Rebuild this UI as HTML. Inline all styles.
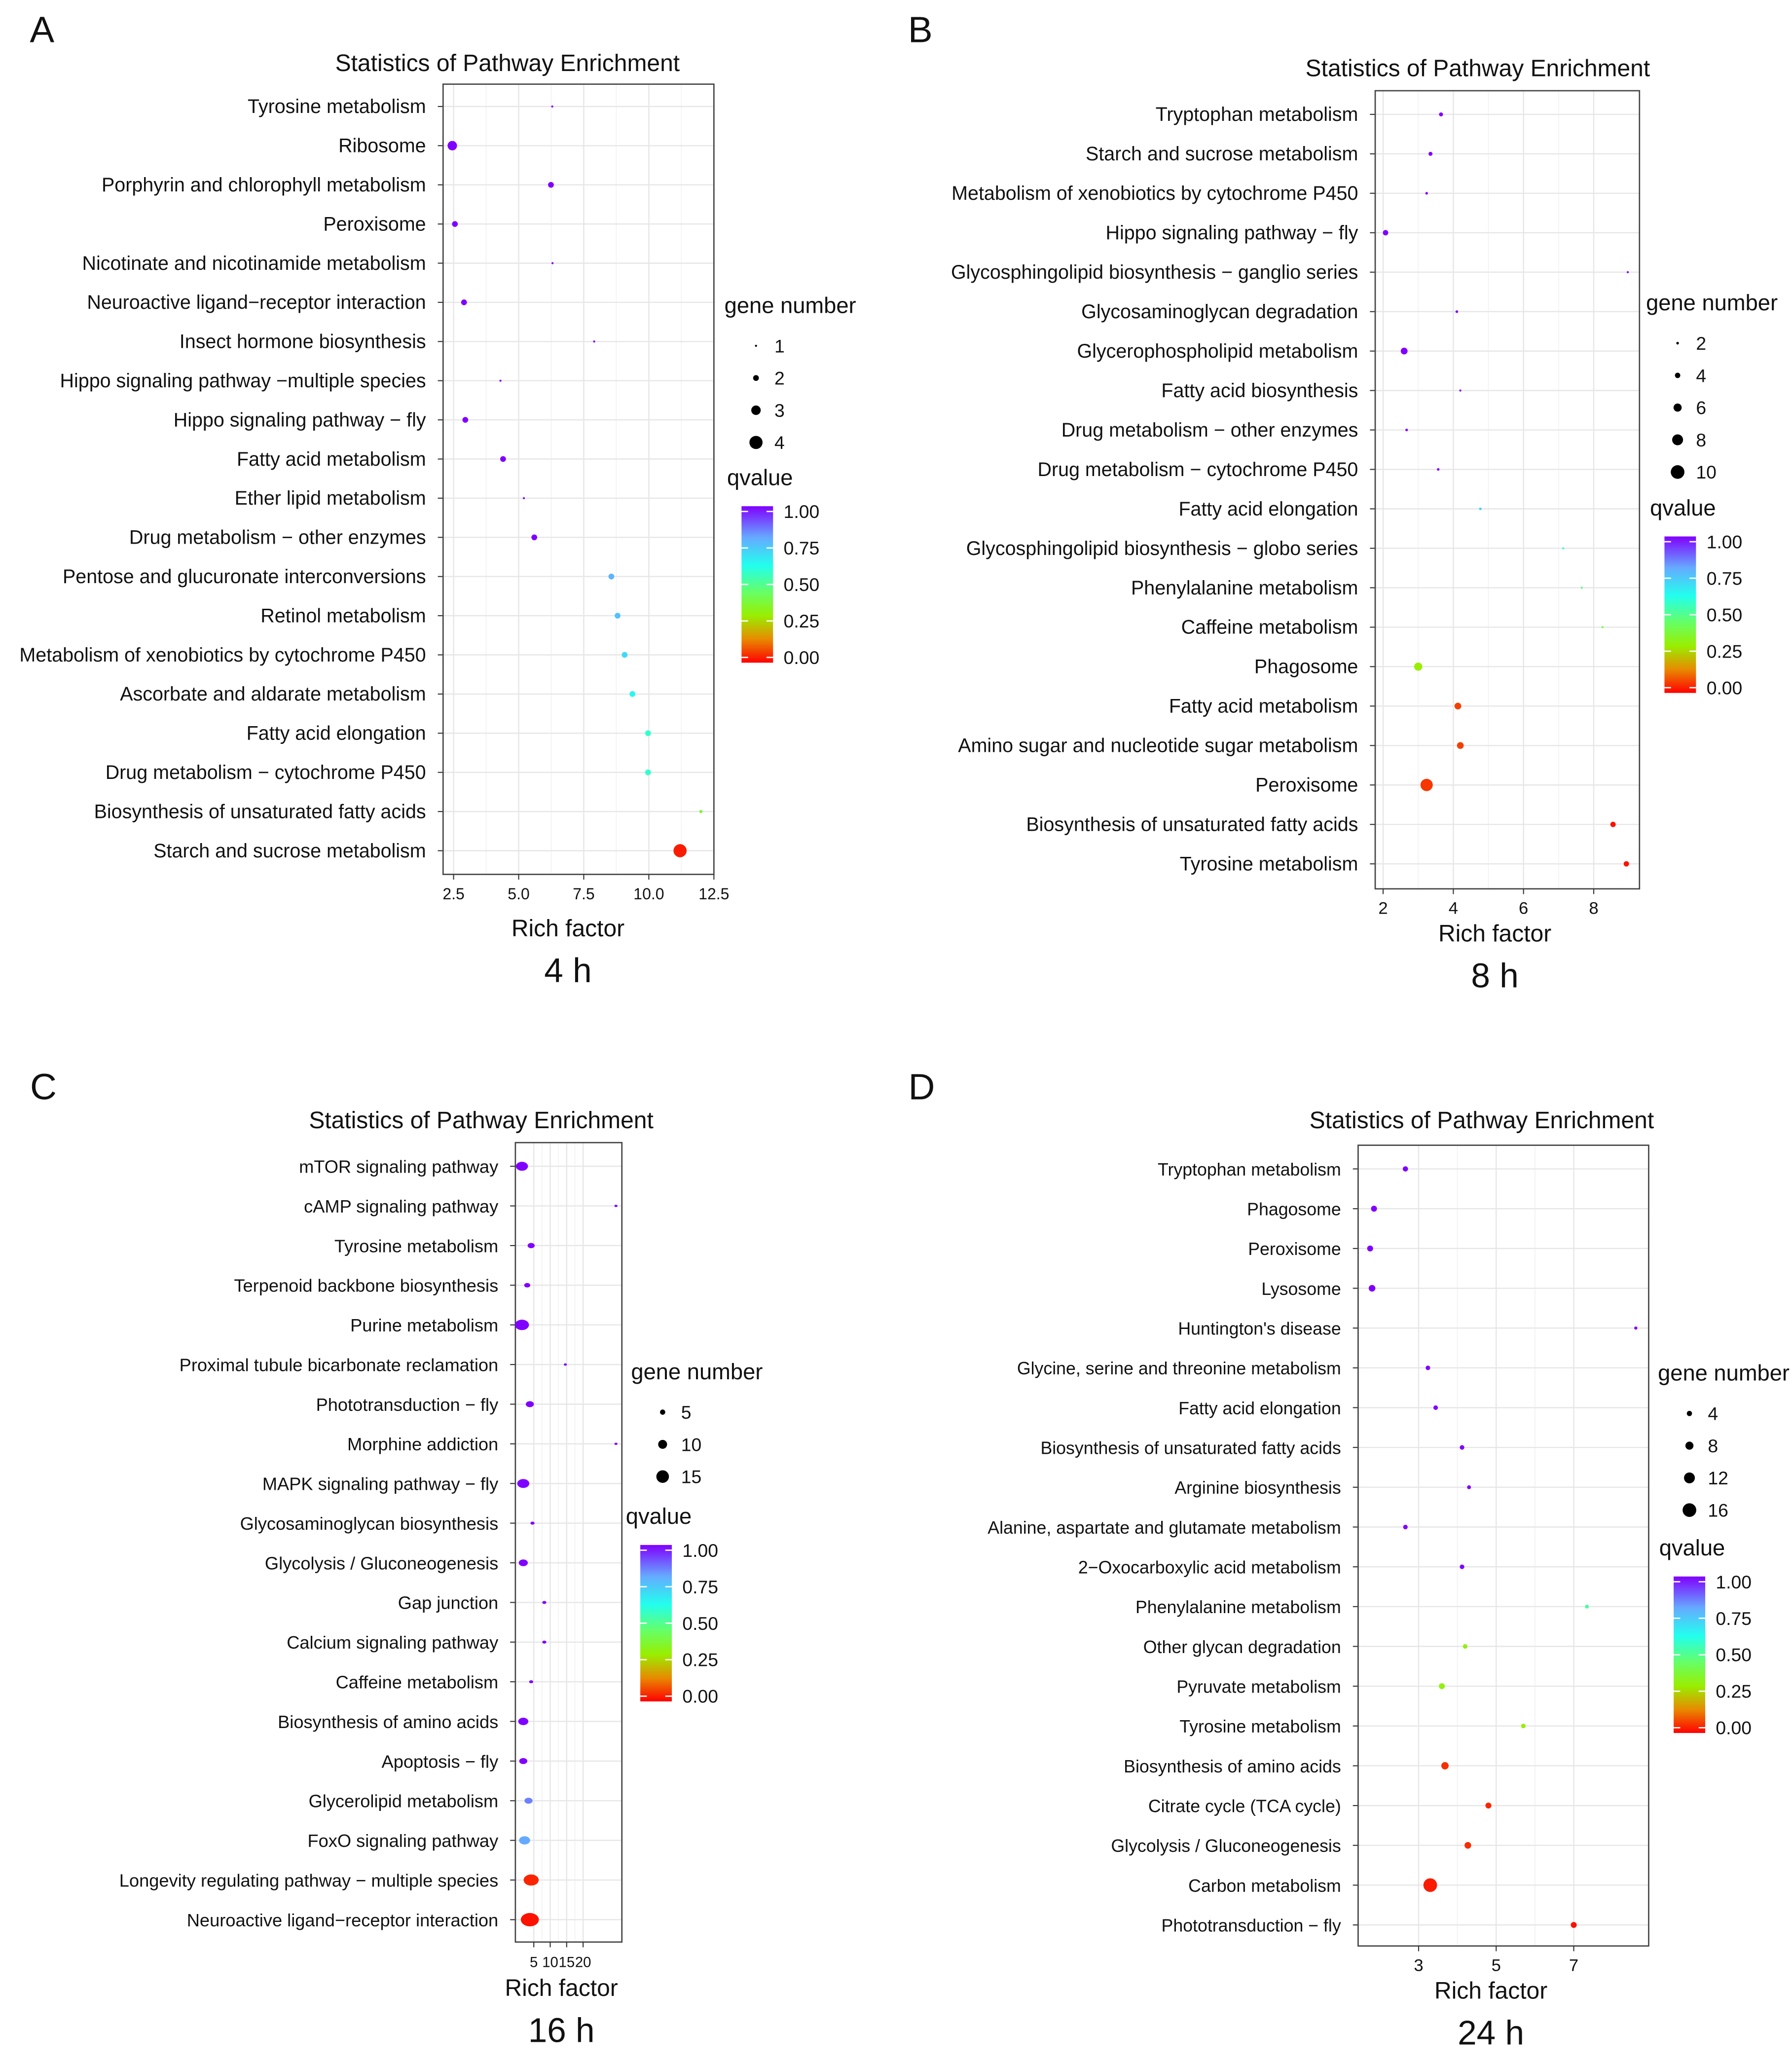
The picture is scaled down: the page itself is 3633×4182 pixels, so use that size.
<!DOCTYPE html>
<html><head><meta charset="utf-8"><style>
html,body{margin:0;padding:0;background:#fff}
svg{display:block;font-family:"Liberation Sans",Arial,sans-serif}
</style></head><body>
<svg id="fig" width="3633" height="4182" viewBox="0 0 1363 1569" xmlns="http://www.w3.org/2000/svg">
<defs>
<linearGradient id="qgrad" x1="0" y1="1" x2="0" y2="0">
<stop offset="0" stop-color="#ff0000"/><stop offset="0.15" stop-color="#e88a00"/><stop offset="0.3" stop-color="#99ee00"/><stop offset="0.45" stop-color="#66ff66"/><stop offset="0.62" stop-color="#22ffee"/><stop offset="0.8" stop-color="#66aaff"/><stop offset="1" stop-color="#8000ff"/>
</linearGradient>
</defs>
</svg>
<script>
// Panel A (4 h)
const namesA=["Tyrosine metabolism","Ribosome","Porphyrin and chlorophyll metabolism","Peroxisome","Nicotinate and nicotinamide metabolism","Neuroactive ligand−receptor interaction","Insect hormone biosynthesis","Hippo signaling pathway −multiple species","Hippo signaling pathway − fly","Fatty acid metabolism","Ether lipid metabolism","Drug metabolism − other enzymes","Pentose and glucuronate interconversions","Retinol metabolism","Metabolism of xenobiotics by cytochrome P450","Ascorbate and aldarate metabolism","Fatty acid elongation","Drug metabolism − cytochrome P450","Biosynthesis of unsaturated fatty acids","Starch and sucrose metabolism"];
const richA=[6.29,2.45,6.24,2.55,6.3,2.9,7.9,4.3,2.95,4.4,5.2,5.6,8.56,8.8,9.07,9.37,9.97,9.97,12.0,11.2];
const qA=[1,1,1,1,1,1,1,1,1,1,1,1,0.78,0.75,0.7,0.64,0.58,0.58,0.38,0.03];
const genesA=[1,3,2,2,1,2,1,1,2,2,1,2,2,2,2,2,2,2,1.3,4];
const ticksA=[2.5,5.0,7.5,10.0,12.5];
const tickLabelsA=["2.5","5.0","7.5","10.0","12.5"];
const legendGenesA=[1,2,3,4];
// Panel B (8 h)
const namesB=["Tryptophan metabolism","Starch and sucrose metabolism","Metabolism of xenobiotics by cytochrome P450","Hippo signaling pathway − fly","Glycosphingolipid biosynthesis − ganglio series","Glycosaminoglycan degradation","Glycerophospholipid metabolism","Fatty acid biosynthesis","Drug metabolism − other enzymes","Drug metabolism − cytochrome P450","Fatty acid elongation","Glycosphingolipid biosynthesis − globo series","Phenylalanine metabolism","Caffeine metabolism","Phagosome","Fatty acid metabolism","Amino sugar and nucleotide sugar metabolism","Peroxisome","Biosynthesis of unsaturated fatty acids","Tyrosine metabolism"];
const richB=[3.65,3.35,3.24,2.07,8.97,4.1,2.6,4.2,2.67,3.57,4.77,7.13,7.66,8.25,3.0,4.13,4.2,3.24,8.55,8.93];
const qB=[1,1,1,1,1,1,1,1,1,1,0.72,0.57,0.5,0.4,0.3,0.07,0.07,0.06,0.02,0.02];
const genesB=[3,3,2,4,1,2,5,1,2,2,2,1,1,1,6,5,5,9,4,4];
const ticksB=[2,4,6,8];
const tickLabelsB=["2","4","6","8"];
const legendGenesB=[2,4,6,8,10];
// Panel C (16 h)
const namesC=["mTOR signaling pathway","cAMP signaling pathway","Tyrosine metabolism","Terpenoid backbone biosynthesis","Purine metabolism","Proximal tubule bicarbonate reclamation","Phototransduction − fly","Morphine addiction","MAPK signaling pathway − fly","Glycosaminoglycan biosynthesis","Glycolysis / Gluconeogenesis","Gap junction","Calcium signaling pathway","Caffeine metabolism","Biosynthesis of amino acids","Apoptosis − fly","Glycerolipid metabolism","FoxO signaling pathway","Longevity regulating pathway − multiple species","Neuroactive ligand−receptor interaction"];
const richC=[1.4,30,4.2,3,1.4,14.6,3.8,30,1.8,4.6,1.8,8.2,8.2,4.2,1.8,1.8,3.4,2.2,4.2,3.8];
const qC=[1,1,1,1,1,1,1,1,1,1,1,1,1,1,1,1,0.85,0.8,0.04,0.02];
const genesC=[10,1,5,4,12,1,6,1,10,2,7,2,2,2,8,6,6,9,13,16];
const ticksC=[5,10,15,20];
const tickLabelsC=["5","10","15","20"];
const legendGenesC=[5,10,15];
// Panel D (24 h)
const namesD=["Tryptophan metabolism","Phagosome","Peroxisome","Lysosome","Huntington's disease","Glycine, serine and threonine metabolism","Fatty acid elongation","Biosynthesis of unsaturated fatty acids","Arginine biosynthesis","Alanine, aspartate and glutamate metabolism","2−Oxocarboxylic acid metabolism","Phenylalanine metabolism","Other glycan degradation","Pyruvate metabolism","Tyrosine metabolism","Biosynthesis of amino acids","Citrate cycle (TCA cycle)","Glycolysis / Gluconeogenesis","Carbon metabolism","Phototransduction − fly"];
const richD=[2.66,1.85,1.75,1.8,8.6,3.24,3.44,4.12,4.3,2.66,4.12,7.34,4.2,3.6,5.7,3.68,4.8,4.27,3.3,7.0];
const qD=[1,1,1,1,1,1,1,1,1,1,1,0.52,0.32,0.32,0.3,0.05,0.04,0.05,0.03,0.02];
const genesD=[4,5,5,6,1,3,3,3,2,3,3,2,3,5,3,7,5,6,16,5];
const ticksD=[3,5,7];
const tickLabelsD=["3","5","7"];
const legendGenesD=[4,8,12,16];

const svg=document.getElementById('fig');
const NS='http://www.w3.org/2000/svg';
function mk(tag,attrs,parent){const e=document.createElementNS(NS,tag);for(const k in attrs)e.setAttribute(k,attrs[k]);(parent||svg).appendChild(e);return e;}
function txt(s,x,y,size,anchor,parent){const t=mk('text',{x:x,y:y,'font-size':size,'text-anchor':anchor||'start',fill:'#111'},parent);t.textContent=s;return t;}
const cstops=[[0,[255,0,0]],[0.15,[232,138,0]],[0.3,[153,238,0]],[0.45,[102,255,102]],[0.62,[34,255,238]],[0.8,[102,170,255]],[1,[128,0,255]]];
function qcolor(q){for(let i=1;i<cstops.length;i++){if(q<=cstops[i][0]){const a=cstops[i-1],b=cstops[i];const t=(q-a[0])/(b[0]-a[0]);const c=a[1].map((v,j)=>Math.round(v+(b[1][j]-v)*t));return 'rgb('+c.join(',')+')';}}return 'rgb(128,0,255)';}

function panel(P){
  const g=mk('g',{});
  
  
  const xs=v=>P.x0+(v-P.v0)*P.k;
  const n=P.names.length;
  const ys=i=>P.yTop+i*(P.yBot-P.yTop)/(n-1);
  const rs=gn=>P.r0+(gn-P.g0)/(P.g1-P.g0)*(P.r1-P.r0);
  const L=txt(P.letter,P.lx,P.ly,28,'middle',g);
  
  const T=txt('Statistics of Pathway Enrichment',P.tx,P.ty,18,'middle',g);
  
  for(let i=0;i<P.ticks.length;i++){
    const gx=xs(P.ticks[i]);
    const ln=mk('line',{x1:gx,x2:gx,y1:P.by0,y2:P.by1,stroke:'#e6e6e6','stroke-width':0.9},g);
    
    if(i<P.ticks.length-1){const mx=(xs(P.ticks[i])+xs(P.ticks[i+1]))/2;mk('line',{x1:mx,x2:mx,y1:P.by0,y2:P.by1,stroke:'#f3f3f3','stroke-width':0.7},g);}
  }
  for(let i=0;i<n;i++){
    const ln=mk('line',{x1:P.bx0,x2:P.bx1,y1:ys(i),y2:ys(i),stroke:'#e6e6e6','stroke-width':0.9},g);
    
    mk('line',{x1:P.bx0-4,x2:P.bx0,y1:ys(i),y2:ys(i),stroke:'#333','stroke-width':0.8},g);
    const lb=txt(P.names[i],P.bx0-13,ys(i)+5,P.fs,'end',g);
    
  }
  const box=mk('rect',{x:P.bx0,y:P.by0,width:P.bx1-P.bx0,height:P.by1-P.by0,fill:'none',stroke:'#444','stroke-width':1},g);
  
  for(let i=0;i<P.ticks.length;i++){
    const gx=xs(P.ticks[i]);
    mk('line',{x1:gx,x2:gx,y1:P.by1,y2:P.by1+4,stroke:'#333','stroke-width':0.8},g);
    const tl=txt(P.tickLabels[i],gx,P.by1+19,P.tfs,'middle',g);
    
  }
  const xa=txt('Rich factor',P.rx,P.ry,18,'middle',g);
  
  const hl=txt(P.time,P.rx,P.ry+35,26,'middle',g);
  
  for(let i=0;i<n;i++){
    const r=Math.max(0.8,rs(P.genes[i]));
    const c=mk('ellipse',{cx:xs(P.rich[i]),cy:ys(i),rx:r*P.ex,ry:r,fill:qcolor(P.q[i])},g);
    
  }
  const gt=txt('gene number',P.gx,P.gy,17,'start',g);
  
  for(let i=0;i<P.legendGenes.length;i++){
    const ly=P.gy+25+i*24.5;
    const c=mk('circle',{cx:P.gx+24,cy:ly,r:Math.max(0.8,rs(P.legendGenes[i])),fill:'#000'},g);
    
    txt(String(P.legendGenes[i]),P.gx+38,ly+5,14,'start',g);
  }
  const qt=txt('qvalue',P.qx,P.qy,17,'start',g);
  
  const bx=P.qx+11,bt=P.qy+16,bh=119;
  const cb=mk('rect',{x:bx,y:bt,width:24,height:bh,fill:'url(#qgrad)'},g);
  
  const labs=['1.00','0.75','0.50','0.25','0.00'];
  for(let i=0;i<5;i++){
    const yy=bt+4+i*(bh-8)/4;
    mk('line',{x1:bx,x2:bx+5,y1:yy,y2:yy,stroke:'#fff','stroke-width':1},g);
    mk('line',{x1:bx+19,x2:bx+24,y1:yy,y2:yy,stroke:'#fff','stroke-width':1},g);
    txt(labs[i],bx+32,yy+5,14,'start',g);
  }
}
panel({id:'a',letter:'A',lx:32,ly:32,tx:386,ty:54,names:namesA,rich:richA,q:qA,genes:genesA,ticks:ticksA,tickLabels:tickLabelsA,legendGenes:legendGenesA,
 bx0:337,bx1:543,by0:64,by1:665,yTop:81,yBot:647,x0:345,v0:2.5,k:19.8,fs:14.8,tfs:12,rx:432,ry:712,time:'4 h',ex:1,
 g0:1,g1:4,r0:0.8,r1:5,gx:551,gy:238,qx:553,qy:369});
panel({id:'b',letter:'B',lx:700,ly:32,tx:1124,ty:58,names:namesB,rich:richB,q:qB,genes:genesB,ticks:ticksB,tickLabels:tickLabelsB,legendGenes:legendGenesB,
 bx0:1046,bx1:1247,by0:69,by1:676,yTop:87,yBot:657,x0:1052,v0:2,k:26.7,fs:14.8,tfs:13,rx:1137,ry:716,time:'8 h',ex:1,
 g0:2,g1:10,r0:1,r1:5.2,gx:1252,gy:236,qx:1255,qy:392});
panel({id:'c',letter:'C',lx:33,ly:836,tx:366,ty:858,names:namesC,rich:richC,q:qC,genes:genesC,ticks:ticksC,tickLabels:tickLabelsC,legendGenes:legendGenesC,
 bx0:392,bx1:473,by0:869,by1:1477,yTop:887,yBot:1460,x0:406,v0:5,k:2.5,fs:13.6,tfs:11,rx:427,ry:1518,time:'16 h',ex:1.35,
 g0:5,g1:15,r0:2,r1:4.8,gx:480,gy:1049,qx:476,qy:1159});
panel({id:'d',letter:'D',lx:701,ly:836,tx:1127,ty:858,names:namesD,rich:richD,q:qD,genes:genesD,ticks:ticksD,tickLabels:tickLabelsD,legendGenes:legendGenesD,
 bx0:1033,bx1:1254,by0:871,by1:1480,yTop:889,yBot:1464,x0:1079,v0:3,k:29.5,fs:13.4,tfs:13,rx:1134,ry:1520,time:'24 h',ex:1,
 g0:4,g1:16,r0:2,r1:5.2,gx:1261,gy:1050,qx:1262,qy:1183});
</script>
</body></html>
